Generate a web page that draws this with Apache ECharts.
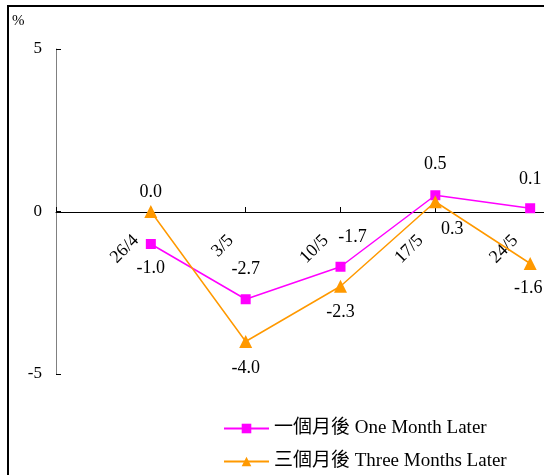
<!DOCTYPE html>
<html><head><meta charset="utf-8">
<script src="https://cdn.jsdelivr.net/npm/echarts@6/dist/echarts.min.js"></script>
<style>html,body{margin:0;padding:0;background:#fff}#c{width:544px;height:475px}</style>
</head><body><div id="c"></div>
<script>
var categories = ['', '26/4', '3/5', '10/5', '17/5', '24/5', ''];
var oneMonth = [null, -1.0, -2.7, -1.7, 0.5, 0.1, null];
var threeMonths = [null, 0.0, -4.0, -2.3, 0.3, -1.6, null];
var seriesNames = ['一個月後 One Month Later', '三個月後 Three Months Later'];
var yTicks = [-5, 0, 5];

// label offsets (style only)
var omOffsets = [null, [0, 24], [0, -30], [12, -29], [0, -31], [0, -29], null];
var tmOffsets = [null, [0, -19], [0, 27], [0, 26], [17, 28], [-2, 25], null];

function mk(vals, offs) {
  return vals.map(function (v, i) {
    if (v === null) return '-';
    return { value: v, label: { show: true, position: 'inside', offset: offs[i],
      formatter: function (p) { return Number(p.value).toFixed(1); } } };
  });
}
var font = 'Liberation Serif, Noto Sans CJK TC, serif';
var chart = echarts.init(document.getElementById('c'));
chart.setOption({
  animation: false,
  backgroundColor: '#fff',
  grid: { left: 56, top: 49, height: 325, width: 569, outerBoundsMode: 'none', containLabel: false },
  graphic: [
    { type: 'rect', shape: { x: 8, y: 6, width: 700, height: 700 }, style: { fill: 'none', stroke: '#000', lineWidth: 2 }, silent: true },
    { type: 'text', left: 12, top: 14, style: { text: '%', font: '15px ' + font, fill: '#000' } }
  ],
  xAxis: {
    type: 'category', data: categories, boundaryGap: false, offset: -162,
    axisLine: { onZero: false, lineStyle: { color: '#000', width: 1 } },
    axisTick: { inside: true, length: 5, lineStyle: { color: '#000' } },
    axisLabel: { rotate: 45, interval: 0, margin: 11, padding: [0, 21, 0, 0], color: '#000', fontFamily: font, fontSize: 18 },
    splitLine: { show: false }
  },
  yAxis: {
    type: 'value', min: -5, max: 5, interval: 5,
    axisLine: { show: true, onZero: false, lineStyle: { color: '#808080', width: 1 } },
    axisTick: { show: true, inside: true, length: 5, lineStyle: { color: '#000' } },
    axisLabel: { margin: 14, color: '#000', fontFamily: font, fontSize: 17,
      formatter: function (v) { return yTicks.indexOf(v) >= 0 ? String(v) : ''; } },
    splitLine: { show: false }
  },
  legend: {
    orient: 'vertical', left: 218, top: 414, height: 120, itemWidth: 45, itemHeight: 12, itemGap: 14,
    textStyle: { color: '#000', fontFamily: font, fontSize: 19 },
    data: seriesNames
  },
  series: [
    { name: seriesNames[0], type: 'line', data: mk(oneMonth, omOffsets),
      symbol: 'rect', symbolSize: 10, color: '#FF00FF',
      lineStyle: { color: '#FF00FF', width: 1.5 }, itemStyle: { color: '#FF00FF' },
      label: { color: '#000', fontFamily: font, fontSize: 18 } },
    { name: seriesNames[1], type: 'line', data: mk(threeMonths, tmOffsets),
      symbol: 'triangle', symbolSize: 13, color: '#FF9900',
      lineStyle: { color: '#FF9900', width: 1.5 }, itemStyle: { color: '#FF9900' },
      label: { color: '#000', fontFamily: font, fontSize: 18 } }
  ]
});
</script></body></html>
